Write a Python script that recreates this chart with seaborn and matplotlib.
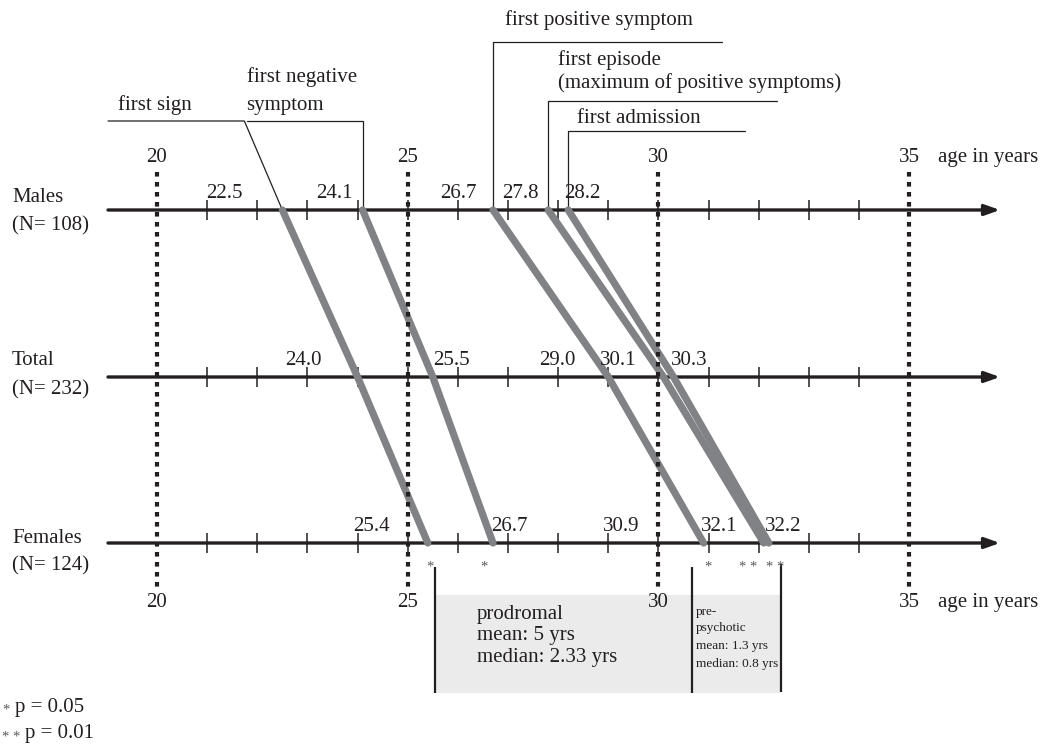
import numpy as np
import pandas as pd
import matplotlib
matplotlib.use('Agg')
import matplotlib.pyplot as plt
import seaborn as sns

# --- data ---
events = ['first sign', 'first negative symptom', 'first positive symptom',
          'first episode', 'first admission']
groups = ['Males', 'Total', 'Females']
group_n = [108, 232, 124]
males = [22.5, 24.1, 26.7, 27.8, 28.2]
total = [24.0, 25.5, 29.0, 30.1, 30.3]
females = [25.4, 26.7, 30.9, 32.1, 32.2]
signif = ['*', '*', '*', '**', '**']
scale_ticks = [20, 25, 30, 35]
minor_ticks = list(range(21, 35))
prodromal_text = ['prodromal', 'mean: 5 yrs', 'median: 2.33 yrs']
prepsychotic_text = ['pre-', 'psychotic', 'mean: 1.3 yrs', 'median: 0.8 yrs']

df = pd.DataFrame({'event': events * 3,
                   'group': np.repeat(groups, len(events)),
                   'age': males + total + females})

# --- layout (figure pixels) ---
INK = '#231f20'
GRAY = '#808285'
STAR = '#58595b'
PX0, PX_PER_YR = 157, 50.15
row_y = [210, 377, 543]


def X(px):
    return 20 + (px - PX0) / PX_PER_YR


def dx(px):
    return px / PX_PER_YR


def stars(s):
    return ' '.join(s)


df['y'] = df['group'].map(dict(zip(groups, row_y)))

sns.set_theme(style='white')
plt.rcParams['font.family'] = ['Liberation Serif', 'DejaVu Serif']
FS = 15

fig = plt.figure(figsize=(10.42, 7.52), dpi=100)
ax = fig.add_axes([0, 0, 1, 1])

# axes with arrows and ticks
for y in row_y:
    ax.annotate('', xy=(X(1000), y), xytext=(X(108), y),
                arrowprops=dict(arrowstyle='-|>,head_length=0.45,head_width=0.16',
                                color=INK, lw=2.4, shrinkA=0, shrinkB=0,
                                mutation_scale=20), zorder=2)
    ax.vlines(minor_ticks, y - 10, y + 10, color=INK, lw=1.1, zorder=2)

# gray trajectories
sns.lineplot(data=df, x='age', y='y', units='event', estimator=None, sort=False,
             color=GRAY, lw=5.2, solid_capstyle='round', legend=False, ax=ax,
             zorder=3)

# dotted year lines
ax.vlines(scale_ticks, 172, 587, colors=INK, lw=3, linestyles=[(0, (1.1, 1.3))],
          zorder=4)
for t in scale_ticks:
    ax.text(t, 162, str(t), ha='center', va='baseline', fontsize=FS, color=INK)
    ax.text(t, 607, str(t), ha='center', va='baseline', fontsize=FS, color=INK)
ax.text(X(938), 162, 'age in years', ha='left', va='baseline', fontsize=FS, color=INK)
ax.text(X(938), 607, 'age in years', ha='left', va='baseline', fontsize=FS, color=INK)

# row labels
row_base = [(202, 230), (365, 394), (543, 570)]
for g, n, (b1, b2) in zip(groups, group_n, row_base):
    ax.text(X(12), b1, g, ha='left', va='baseline', fontsize=FS, color=INK)
    ax.text(X(12), b2, f'(N= {n})', ha='left', va='baseline', fontsize=FS, color=INK)

# value labels
label_dx = [[-58, -28, -35, -28, 14],
            [-54, 19, -51, -45, 16],
            [-56, 16, -82, -45, 14]]
for vals, y, offs in zip([males, total, females], row_y, label_dx):
    for v, o in zip(vals, offs):
        ax.text(v + dx(o), y - 12, f'{v:.1f}', ha='center', va='baseline',
                fontsize=FS, color=INK)

# significance marks below females
sig_dx = [2, -9, 4, -16, 6]
for v, s, o in zip(females, signif, sig_dx):
    ax.text(v + dx(o), 571, stars(s), ha='center', va='baseline', fontsize=10.5, color=STAR)

# event labels with leader lines
lw_thin = 0.9
m = males
ax.plot([X(108), m[0] + dx(-38), m[0]], [121, 121, row_y[0]], color=INK, lw=lw_thin, zorder=2)
ax.text(X(118), 110, 'first sign', ha='left', va='baseline', fontsize=FS, color=INK)

ax.plot([m[1] + dx(-116), m[1], m[1]], [121, 121, row_y[0]], color=INK, lw=lw_thin, zorder=2)
ax.text(m[1] + dx(-116), 82, 'first negative', ha='left', va='baseline', fontsize=FS, color=INK)
ax.text(m[1] + dx(-116), 110, 'symptom', ha='left', va='baseline', fontsize=FS, color=INK)

up_labels = [(2, 42, 229, 12, [('first positive symptom', 25)]),
             (3, 101, 229, 10, [('first episode', 65),
                                ('(maximum of positive symptoms)', 88)]),
             (4, 131, 177, 9, [('first admission', 123)])]
for i, ly, length, tx, lines in up_labels:
    ax.plot([m[i], m[i], m[i] + dx(length)], [row_y[0], ly, ly],
            color=INK, lw=lw_thin, zorder=2)
    for txt, base in lines:
        ax.text(m[i] + dx(tx), base, txt, ha='left', va='baseline', fontsize=FS, color=INK)

# prodromal / pre-psychotic boxes
x_left = females[0] + dx(7)
x_mid = females[2] + dx(-12)
x_right = females[4] + dx(12)
ax.fill_between([x_left, x_right], 595, 693, color='#ebebec', lw=0, zorder=1)
ax.vlines([x_left, x_mid], 567, 693, color=INK, lw=1.6, zorder=2)
ax.vlines([x_right], 564, 692, color=INK, lw=1.6, zorder=2)
for txt, base in zip(prodromal_text, [619, 640, 662]):
    ax.text(X(477), base, txt, ha='left', va='baseline', fontsize=FS, color=INK)
for txt, base in zip(prepsychotic_text, [615, 631, 649, 667]):
    ax.text(x_mid + dx(4), base, txt, ha='left', va='baseline', fontsize=9.5, color=INK)

# legend for significance
ax.text(X(2), 714, stars('*'), ha='left', va='baseline', fontsize=10.5, color=STAR)
ax.text(X(15), 712, 'p = 0.05', ha='left', va='baseline', fontsize=FS, color=INK)
ax.text(X(2), 741, stars('**'), ha='left', va='baseline', fontsize=10.5, color=STAR)
ax.text(X(25), 738, 'p = 0.01', ha='left', va='baseline', fontsize=FS, color=INK)

ax.set_xlim(X(0), X(1042))
ax.set_ylim(752, 0)
ax.axis('off')

fig.savefig('out.png', dpi=100)
